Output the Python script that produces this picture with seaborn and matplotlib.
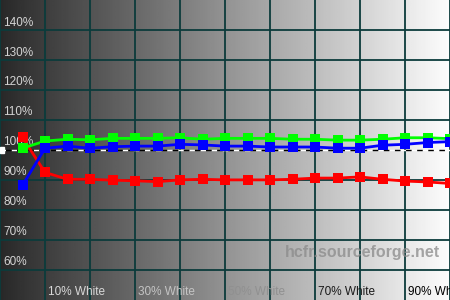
import numpy as np
import pandas as pd
import matplotlib
matplotlib.use("Agg")
import matplotlib.pyplot as plt
import seaborn as sns
from matplotlib.patches import Rectangle
from matplotlib.transforms import blended_transform_factory

# ---- data ----
levels = [5, 10, 15, 20, 25, 30, 35, 40, 45, 50, 55, 60, 65, 70, 75, 80, 85, 90, 95, 100]
red = [104.2, 92.5, 90.2, 90.2, 89.9, 89.7, 89.4, 90.0, 90.2, 90.0, 90.0, 90.0, 90.2, 90.6, 90.6, 91.0, 90.2, 89.6, 89.3, 88.8]
green = [100.6, 103.0, 103.6, 103.4, 103.9, 103.9, 103.9, 104.1, 103.6, 103.9, 103.9, 103.9, 103.6, 103.6, 103.3, 103.3, 103.6, 104.1, 104.1, 103.8]
blue = [88.2, 100.6, 101.3, 100.6, 101.1, 101.3, 101.3, 101.9, 101.7, 101.3, 101.3, 101.0, 101.0, 101.0, 100.6, 100.6, 101.6, 101.9, 102.5, 102.8]
y_ticks = [60, 70, 80, 90, 100, 110, 120, 130, 140]
y_labels = ["60%", "70%", "80%", "90%", "100%", "110%", "120%", "130%", "140%"]
x_ticks = [10, 30, 50, 70, 90]
x_labels = ["10% White", "30% White", "50% White", "70% White", "90% White"]
x_label_colors = ["#d8d8d8", "#c4c4c4", "#909090", "#1a1a1a", "#000000"]

df = pd.DataFrame({
    "level": levels * 3,
    "value": red + green + blue,
    "channel": ["Red"] * len(levels) + ["Green"] * len(levels) + ["Blue"] * len(levels),
})

sns.set_style("white")
plt.rcParams["font.family"] = ["Liberation Sans", "DejaVu Sans"]

fig = plt.figure(figsize=(4.5, 3.0), dpi=100)
ax = fig.add_axes([0, 0, 1, 1])
ax.set_xlim(0, 100)
ax.set_ylim(49.8, 150.2)

# background gradient
grad = np.linspace(0.16, 0.99, 256).reshape(1, -1)
ax.imshow(grad, cmap="gray", vmin=0, vmax=1, extent=[0, 100, 49.8, 150.2],
          aspect="auto", zorder=0, interpolation="bilinear")

# grid
grid_c = "#0b3b3b"
for xv in range(0, 101, 10):
    ax.axvline(xv, color=grid_c, lw=1.3, zorder=1)
for yv in y_ticks:
    if yv != 100:
        ax.axhline(yv, color=grid_c, lw=1.3, zorder=1)
ax.axhline(100, color="white", lw=1.0, ls=(0, (4, 4)), zorder=1.5)
ax.axhline(100, color="black", lw=1.0, ls=(4, (4, 4)), zorder=1.5)
trans = blended_transform_factory(ax.transAxes, ax.transData)
ax.add_patch(Rectangle((0, 99.0), 0.009, 2.0, transform=trans, color="white", zorder=2))

# y labels
for yv, lab in zip(y_ticks, y_labels):
    ax.text(0.7, yv + 0.6, lab, color="#d4d4d4", fontsize=8.5, ha="left", va="bottom", zorder=2)

# x labels
for xv, lab, c in zip(x_ticks, x_labels, x_label_colors):
    ax.text(xv + 0.6, 52.4, lab, color=c, fontsize=8.5, ha="left", va="center", zorder=2)

# watermark
ax.text(97.8, 65.6, "hcfr.sourceforge.net", color="#8a8a8a", alpha=0.75,
        fontsize=11.5, fontweight="bold", ha="right", va="center", zorder=2)

palette = {"Red": "#ff0000", "Green": "#00ff00", "Blue": "#0000ff"}
sns.lineplot(data=df, x="level", y="value", hue="channel", hue_order=["Red", "Green", "Blue"],
             palette=palette, marker="s", markersize=6.5, markeredgewidth=0, lw=2.0,
             legend=False, ax=ax, zorder=3)

ax.set_xlim(0, 100)
ax.set_ylim(49.8, 150.2)
ax.set_xticks([])
ax.set_yticks([])
ax.set_xlabel("")
ax.set_ylabel("")
for s in ax.spines.values():
    s.set_visible(False)

fig.savefig("out.png", dpi=100)
